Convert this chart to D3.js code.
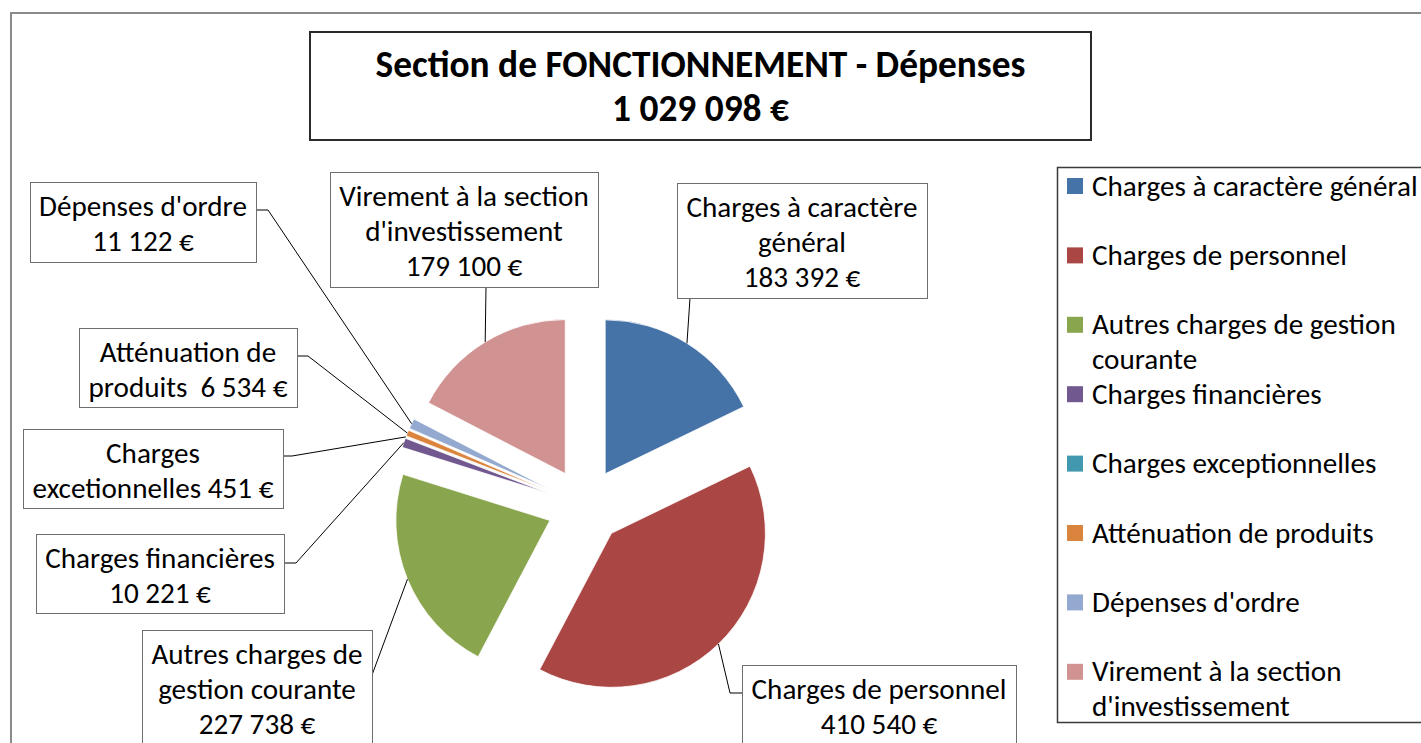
<!DOCTYPE html>
<html>
<head>
<meta charset="utf-8">
<script src="https://cdn.jsdelivr.net/npm/d3@7"></script>
<style>
  html, body { margin: 0; padding: 0; background: #fff; }
  svg { display: block; }
  text { white-space: pre; }
</style>
</head>
<body>
<svg id="chart" width="1421" height="743"></svg>
<script>
// ---------------- DATA ----------------
const titleLines = ["Section de FONCTIONNEMENT - Dépenses", "1 029 098 €"];

const categories = [
  "Charges à caractère général",
  "Charges de personnel",
  "Autres charges de gestion courante",
  "Charges financières",
  "Charges exceptionnelles",
  "Atténuation de produits",
  "Dépenses d'ordre",
  "Virement à la section d'investissement"
];

const values = [183392, 410540, 227738, 10221, 451, 6534, 11122, 179100];

const colors = ["#4572A7", "#AA4643", "#89A54E", "#71588F", "#4198AF", "#DB843D", "#93A9CF", "#D19392"];

// data-label text ({v} = formatted value)
const labelTexts = [
  ["Charges à caractère", "général", "{v}"],
  ["Charges de personnel", "{v}"],
  ["Autres charges de", "gestion courante", "{v}"],
  ["Charges financières", "{v}"],
  ["Charges", "excetionnelles {v}"],
  ["Atténuation de", "produits  {v}"],
  ["Dépenses d'ordre", "{v}"],
  ["Virement à la section", "d'investissement", "{v}"]
];

// legend text wrapping
const legendLines = [
  ["Charges à caractère général"],
  ["Charges de personnel"],
  ["Autres charges de gestion", "courante"],
  ["Charges financières"],
  ["Charges exceptionnelles"],
  ["Atténuation de produits"],
  ["Dépenses d'ordre"],
  ["Virement à la section", "d'investissement"]
];

// ---------------- LAYOUT ----------------
const W = 1421, H = 743;
const FONT = "Carlito, Lato, 'Liberation Sans', sans-serif";
const pieCenter = [585, 506];
const radius = 154;
const explode = 38;

// label boxes [x, y, w, h] and leader attach points (box side first)
const labelBoxes = [
  {x: 677, y: 183, w: 250, h: 115, attach: [[690, 298]]},
  {x: 742, y: 665, w: 274, h: 110, attach: [[742, 693], [730, 693]]},
  {x: 142, y: 630, w: 230, h: 130, attach: [[372, 675]]},
  {x: 36,  y: 534, w: 248, h: 79,  attach: [[284, 563], [296, 563]]},
  {x: 23,  y: 429, w: 260, h: 79,  attach: [[283, 456], [292, 456]]},
  {x: 79,  y: 328, w: 218, h: 79,  attach: [[297, 356], [308, 356]]},
  {x: 30,  y: 182, w: 226, h: 80,  attach: [[256, 210], [268, 210]]},
  {x: 330, y: 172, w: 268, h: 115, attach: [[486, 287]]}
];

const svg = d3.select("#chart");

// number formatting: "183 392 €"
const fmtNum = d3.formatLocale({decimal: ",", thousands: " ", grouping: [3], currency: ["", " €"]}).format(",d");
const fmt = v => fmtNum(v) + " €";

// ---- font size calibration (Calibri-like widths) ----
function measure(str, size, weight) {
  const t = svg.append("text").attr("font-family", FONT).attr("font-size", size)
    .attr("font-weight", weight || "normal").text(str);
  const w = t.node().getComputedTextLength();
  t.remove();
  return w;
}
const fs = Math.min(30, Math.max(20, 100 * 255 / measure("Charges de personnel", 100)));
const tfs = Math.min(40, Math.max(24, 100 * 650 / measure("Section de FONCTIONNEMENT - Dépenses", 100, "bold")));

// ---- outer chart border ----
svg.append("rect").attr("x", 11).attr("y", 13).attr("width", W + 50).attr("height", H + 50)
  .attr("fill", "none").attr("stroke", "#8a8a8a").attr("stroke-width", 2);

// ---- title ----
svg.append("rect").attr("x", 310).attr("y", 32).attr("width", 781).attr("height", 108)
  .attr("fill", "#fff").attr("stroke", "#2b2b2b").attr("stroke-width", 2);
svg.append("g").selectAll("text").data(titleLines).join("text")
  .attr("x", 700.5).attr("y", (d, i) => 77 + i * 44)
  .attr("text-anchor", "middle").attr("font-family", FONT).attr("font-weight", "bold")
  .attr("font-size", tfs).attr("fill", "#000").text(d => d);

// ---- pie ----
const pie = d3.pie().sort(null).value(d => d)(values);
const arc = d3.arc().innerRadius(0).outerRadius(radius);
const mid = d => (d.startAngle + d.endAngle) / 2;
const offset = d => [explode * Math.sin(mid(d)), -explode * Math.cos(mid(d))];
const edgePoint = d => {
  const o = offset(d), m = mid(d);
  return [pieCenter[0] + o[0] + radius * Math.sin(m), pieCenter[1] + o[1] - radius * Math.cos(m)];
};

const gPie = svg.append("g").attr("transform", `translate(${pieCenter[0]},${pieCenter[1]})`);
gPie.selectAll("path").data(pie).join("path")
  .attr("transform", d => `translate(${offset(d)[0]},${offset(d)[1]})`)
  .attr("d", arc)
  .attr("fill", (d, i) => colors[i])
  .attr("stroke", "#fff").attr("stroke-width", 0.8);

// ---- leader lines ----
const line = d3.line();
svg.append("g").selectAll("path").data(pie).join("path")
  .attr("d", (d, i) => line([...labelBoxes[i].attach, edgePoint(d)]))
  .attr("fill", "none").attr("stroke", "#000").attr("stroke-width", 1);

// ---- label boxes ----
const gLab = svg.append("g").selectAll("g").data(pie).join("g");
gLab.append("rect")
  .attr("x", (d, i) => labelBoxes[i].x + 0.5).attr("y", (d, i) => labelBoxes[i].y + 0.5)
  .attr("width", (d, i) => labelBoxes[i].w).attr("height", (d, i) => labelBoxes[i].h)
  .attr("fill", "#fff").attr("stroke", "#6e6e6e").attr("stroke-width", 1);
gLab.each(function(d, i) {
  const b = labelBoxes[i];
  d3.select(this).selectAll("text").data(labelTexts[i]).join("text")
    .attr("x", b.x + b.w / 2)
    .attr("y", (t, j) => b.y + 24 + j * 35 + fs * 0.33)
    .attr("text-anchor", "middle").attr("font-family", FONT).attr("font-size", fs)
    .attr("fill", "#000")
    .text(t => t.replace("{v}", fmt(d.data)));
});

// ---- legend ----
svg.append("rect").attr("x", 1057.5).attr("y", 167.5).attr("width", 420).attr("height", 555)
  .attr("fill", "#fff").attr("stroke", "#3a3a3a").attr("stroke-width", 1.5);
const gLeg = svg.append("g").selectAll("g").data(categories).join("g")
  .attr("transform", (d, i) => `translate(1067, ${186 + i * 69.4})`);
gLeg.append("rect").attr("x", 0).attr("y", -8).attr("width", 16).attr("height", 16)
  .attr("fill", (d, i) => colors[i]);
gLeg.each(function(d, i) {
  d3.select(this).selectAll("text").data(legendLines[i]).join("text")
    .attr("x", 25).attr("y", (t, j) => j * 35 + fs * 0.33)
    .attr("font-family", FONT).attr("font-size", fs).attr("fill", "#000")
    .text(t => t);
});
</script>
</body>
</html>
